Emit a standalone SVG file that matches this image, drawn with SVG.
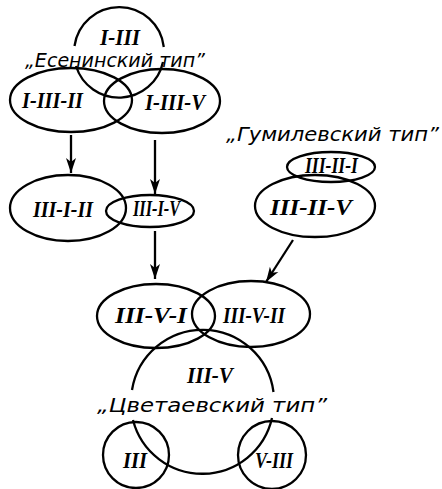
<svg xmlns="http://www.w3.org/2000/svg" width="442" height="489" viewBox="0 0 442 489">
  <style>
    .ln { fill: none; stroke: #000; stroke-width: 2.3; }
    .num { font-family: "Liberation Serif", "DejaVu Serif", serif; font-style: italic; font-weight: bold; font-size: 24px; fill: #000; }
    .cap { font-family: "DejaVu Sans", "Liberation Sans", sans-serif; font-style: italic; font-size: 19px; fill: #000; }
  </style>
  <defs>
    <marker id="arrow" markerUnits="userSpaceOnUse" markerWidth="16" markerHeight="12" viewBox="0 0 16 12" refX="15" refY="6" orient="auto">
      <path d="M0,1 L15,6 L0,11 L4,6 Z" fill="#000"/>
    </marker>
  </defs>
  <rect width="442" height="489" fill="#fff"/>

  <!-- Yesenin type -->
  <g id="n-i-iii">
    <path class="ln" d="M74.5,46 A45,45 0 0 1 163.8,47"/>
    <path class="ln" d="M163,62 A45,45 0 0 1 76,66"/>
    <text class="num" x="100" y="45" textLength="40" lengthAdjust="spacingAndGlyphs" font-size="19">I-III</text>
    <text class="cap" x="25" y="67" textLength="180" lengthAdjust="spacingAndGlyphs" font-size="17.5">„Есенинский тип”</text>
  </g>
  <g id="n-i-iii-ii">
    <ellipse class="ln" cx="71" cy="100" rx="61" ry="32"/>
    <text class="num" x="22" y="108" textLength="61" lengthAdjust="spacingAndGlyphs">I-III-II</text>
  </g>
  <g id="n-i-iii-v">
    <ellipse class="ln" cx="162" cy="101" rx="58" ry="32"/>
    <text class="num" x="145" y="110" textLength="60" lengthAdjust="spacingAndGlyphs">I-III-V</text>
  </g>

  <g id="n-iii-i-ii">
    <ellipse class="ln" cx="68" cy="208" rx="58" ry="33"/>
    <text class="num" x="33" y="217" textLength="60" lengthAdjust="spacingAndGlyphs">III-I-II</text>
  </g>
  <g id="n-iii-i-v">
    <ellipse class="ln" cx="150" cy="211" rx="44" ry="16"/>
    <text class="num" x="133" y="216" textLength="47" lengthAdjust="spacingAndGlyphs" font-size="19">III-I-V</text>
  </g>

  <!-- Gumilyov type -->
  <g id="n-gumilev">
    <text class="cap" x="226" y="141" textLength="213" lengthAdjust="spacingAndGlyphs">„Гумилевский тип”</text>
  </g>
  <g id="n-iii-ii-i">
    <ellipse class="ln" cx="331" cy="167" rx="44" ry="15"/>
    <text class="num" x="305" y="173" textLength="53" lengthAdjust="spacingAndGlyphs" font-size="17">III-II-I</text>
  </g>
  <g id="n-iii-ii-v">
    <ellipse class="ln" cx="315" cy="206" rx="60" ry="31"/>
    <text class="num" x="270" y="215" textLength="82" lengthAdjust="spacingAndGlyphs">III-II-V</text>
  </g>

  <g id="n-iii-v-i">
    <ellipse class="ln" cx="156" cy="316" rx="59" ry="32"/>
    <text class="num" x="115" y="323" textLength="72" lengthAdjust="spacingAndGlyphs" font-size="25">III-V-I</text>
  </g>
  <g id="n-iii-v-ii">
    <ellipse class="ln" cx="251" cy="314" rx="59" ry="33"/>
    <text class="num" x="223" y="323" textLength="62" lengthAdjust="spacingAndGlyphs" font-size="25">III-V-II</text>
  </g>

  <!-- Tsvetaeva type -->
  <g id="n-iii-v">
    <path class="ln" d="M132,390 A71.5,71.5 0 0 1 273.5,392"/>
    <path class="ln" d="M272,418 A71.5,71.5 0 0 1 133,420"/>
    <text class="num" x="187" y="383" textLength="46" lengthAdjust="spacingAndGlyphs">III-V</text>
    <text class="cap" x="97" y="412" textLength="230" lengthAdjust="spacingAndGlyphs">„Цветаевский тип”</text>
  </g>
  <g id="n-iii">
    <circle class="ln" cx="136" cy="455" r="33"/>
    <text class="num" x="123" y="468" textLength="24" lengthAdjust="spacingAndGlyphs">III</text>
  </g>
  <g id="n-v-iii">
    <circle class="ln" cx="272" cy="455" r="34"/>
    <text class="num" x="255" y="468" textLength="38" lengthAdjust="spacingAndGlyphs">V-III</text>
  </g>

  <g id="connectors">
    <line class="ln" x1="71" y1="135" x2="71" y2="173" marker-end="url(#arrow)"/>
    <line class="ln" x1="155" y1="140" x2="155" y2="194" marker-end="url(#arrow)"/>
    <line class="ln" x1="155" y1="231" x2="155" y2="279" marker-end="url(#arrow)"/>
    <line class="ln" x1="293" y1="240" x2="266" y2="282" marker-end="url(#arrow)"/>
  </g>
</svg>
